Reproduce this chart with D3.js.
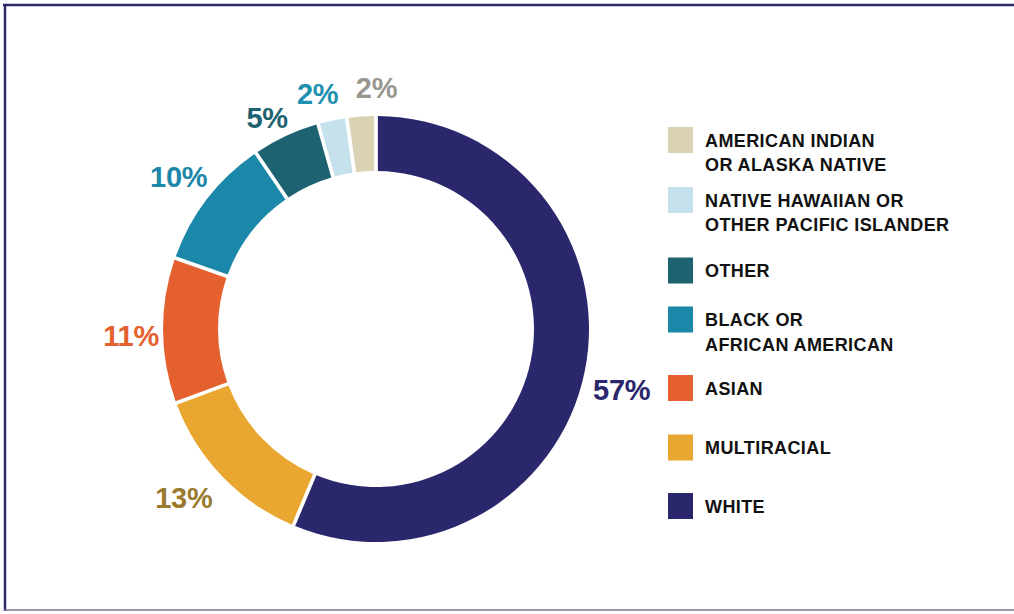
<!DOCTYPE html>
<html>
<head>
<meta charset="utf-8">
<script src="https://cdn.jsdelivr.net/npm/d3@7"></script>
<style>
  html, body { margin: 0; padding: 0; background: #fff; }
  svg { display: block; }
  text { font-family: "Liberation Sans", Arial, sans-serif; font-weight: bold; }
</style>
</head>
<body>
<svg id="chart" width="1014" height="614"></svg>
<script>
// Data, in clockwise order from 12 o'clock
const categories = ["WHITE", "MULTIRACIAL", "ASIAN", "BLACK OR AFRICAN AMERICAN", "OTHER", "NATIVE HAWAIIAN OR OTHER PACIFIC ISLANDER", "AMERICAN INDIAN OR ALASKA NATIVE"];
const values = [57, 13, 11, 10, 5, 2, 2];
const colors = ["#2a276c", "#e9a630", "#e4602f", "#1b87a9", "#1c6270", "#c5e1ec", "#d9d3b3"];
const labelColors = ["#2a276c", "#9a7a2c", "#e4602f", "#1b87a9", "#1c6270", "#1e90b0", "#98978f"];
const valueLabels = ["57%", "13%", "11%", "10%", "5%", "2%", "2%"];
// Legend order (top to bottom) and wrapped lines
const legendOrder = [6, 5, 4, 3, 2, 1, 0];
const legendLines = {
  0: ["WHITE"],
  1: ["MULTIRACIAL"],
  2: ["ASIAN"],
  3: ["BLACK OR", "AFRICAN AMERICAN"],
  4: ["OTHER"],
  5: ["NATIVE HAWAIIAN OR", "OTHER PACIFIC ISLANDER"],
  6: ["AMERICAN INDIAN", "OR ALASKA NATIVE"]
};

const svg = d3.select("#chart");

// Frame
svg.append("line").attr("x1", 3).attr("x2", 1014).attr("y1", 5).attr("y2", 5)
  .attr("stroke", "#2a2a6a").attr("stroke-width", 2.5);
svg.append("line").attr("x1", 5).attr("x2", 5).attr("y1", 4).attr("y2", 611)
  .attr("stroke", "#2a2a6a").attr("stroke-width", 2.5);
svg.append("line").attr("x1", 4).attr("x2", 1014).attr("y1", 610).attr("y2", 610)
  .attr("stroke", "#77759a").attr("stroke-width", 1.5);

const cx = 376, cy = 329, rOuter = 213, rInner = 158;

const data = categories.map((c, i) => ({ name: c, value: values[i], color: colors[i], labelColor: labelColors[i], label: valueLabels[i], idx: i }));

const pie = d3.pie().value(d => d.value).sort(null).startAngle(0).endAngle(2 * Math.PI).padAngle(0.014);
const arcs = pie(data);
const arc = d3.arc().innerRadius(rInner).outerRadius(rOuter);

const g = svg.append("g").attr("transform", `translate(${cx},${cy})`);
g.selectAll("path.slice").data(arcs).enter().append("path")
  .attr("class", "slice")
  .attr("d", arc)
  .attr("fill", d => d.data.color);

// Value labels: radius and angle offset from each slice's mid-angle
const labelRadius = [253, 256, 245, 249, 237, 242, 241];
const labelAngleShift = [0.043, 0.042, -0.019, 0, -0.04, -0.037, 0.071];
g.selectAll("text.val").data(arcs).enter().append("text")
  .attr("class", "val")
  .attr("x", (d, i) => { const a = (d.startAngle + d.endAngle) / 2 + labelAngleShift[i]; return labelRadius[i] * Math.sin(a); })
  .attr("y", (d, i) => { const a = (d.startAngle + d.endAngle) / 2 + labelAngleShift[i]; return -labelRadius[i] * Math.cos(a); })
  .attr("text-anchor", "middle")
  .attr("dominant-baseline", "central")
  .attr("font-size", 29)
  .attr("letter-spacing", -0.3)
  .attr("fill", d => d.data.labelColor)
  .text(d => d.data.label);

// Legend
const legendYs = { 6: 140, 5: 200, 4: 270.5, 3: 319.5, 2: 388, 1: 447.5, 0: 506 };
const lg = svg.append("g");
legendOrder.forEach(k => {
  const y = legendYs[k];
  lg.append("rect").attr("x", 668).attr("y", y - 13).attr("width", 25).attr("height", 26)
    .attr("fill", colors[k]);
  legendLines[k].forEach((line, j) => {
    lg.append("text")
      .attr("x", 705)
      .attr("y", y + 6.5 + j * 24.5)
      .attr("font-size", 18)
      .attr("letter-spacing", 0.4)
      .attr("fill", "#111")
      .text(line);
  });
});
</script>
</body>
</html>
